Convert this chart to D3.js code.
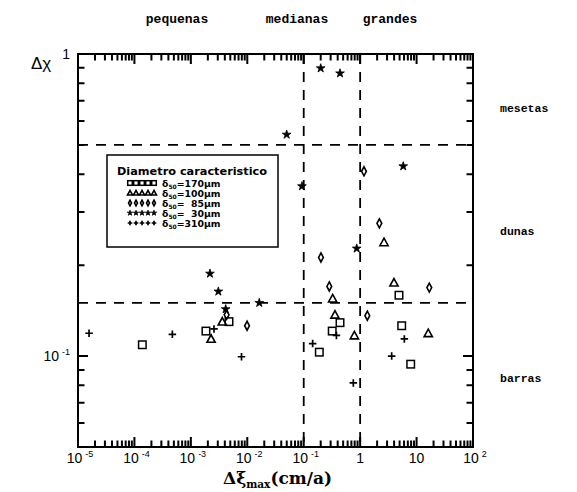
<!DOCTYPE html>
<html>
<head>
<meta charset="utf-8">
<script src="https://cdn.jsdelivr.net/npm/d3@7"></script>
<style>
  body { margin: 0; background: #fff; }
  svg { display: block; }
</style>
</head>
<body>
<div id="chart"></div>
<script>
/* data: [delta xi max (cm/a), delta chi] */
const sq170 = [[1.38e-4, 0.109], [0.00185, 0.121], [0.00474, 0.130], [0.189, 0.103], [0.32, 0.121],
  [0.44, 0.129], [4.88, 0.159], [5.45, 0.126], [7.87, 0.094]]
const tri100 = [[0.00228, 0.114], [0.00361, 0.130], [0.326, 0.155], [0.358, 0.137], [0.79, 0.117],
  [2.65, 0.238], [3.98, 0.175], [16.1, 0.119]]
const dia85 = [[0.0043, 0.137], [0.0099, 0.126], [0.202, 0.212], [0.284, 0.170], [1.17, 0.409],
  [1.34, 0.136], [2.19, 0.275], [16.8, 0.1685]]
const star30 = [[0.00218, 0.1875], [0.00307, 0.1636], [0.00414, 0.143], [0.0163, 0.150], [0.0499, 0.541],
  [0.093, 0.365], [0.2, 0.897], [0.44, 0.863], [0.87, 0.227], [5.8, 0.425]]
const plus310 = [[1.57e-5, 0.119], [4.7e-4, 0.118], [0.00257, 0.123], [0.0079, 0.0995], [0.144, 0.110],
  [0.38, 0.117], [0.757, 0.0815], [3.62, 0.100], [6.07, 0.114]]

const seriesNames = ['170', '100', ' 85', ' 30', '310']
const seriesKinds = ['square', 'triangle', 'diamond', 'star', 'plus']
const seriesData = [sq170, tri100, dia85, star30, plus310]

/* tick labels */
const xTickVals = [1e-5, 1e-4, 1e-3, 1e-2, 1e-1, 1, 10, 100]
const xTickBase = ['10', '10', '10', '10', '10', '1', '10', '10']
const xTickExp = ['-5', '-4', '-3', '-2', '-1', '', '', '2']
const yTickVals = [1, 0.1]
const yTickBase = ['1', '10']
const yTickExp = ['', '-1']

/* zone boundaries (dashed lines) */
const xBounds = [0.1, 1]
const yBounds = [0.15, 0.5]

const W = 577, H = 492
const margin = { top: 54, left: 78, right: 104, bottom: 45 }

const svg = d3.select('#chart').append('svg').attr('width', W).attr('height', H)

const x = d3.scaleLog().domain([1e-5, 100]).range([margin.left, W - margin.right])
const y = d3.scaleLog().domain([0.05, 1]).range([H - margin.bottom, margin.top])
const x0 = x.range()[0], x1 = x.range()[1], y0 = y.range()[0], y1 = y.range()[1]

/* frame */
svg.append('rect')
  .attr('x', x0).attr('y', y1)
  .attr('width', x1 - x0).attr('height', y0 - y1)
  .attr('fill', 'none').attr('stroke', '#000').attr('stroke-width', 2)

/* inward ticks on all four sides, minor ones shorter; one path per side */
const isMajor = (v) => Math.abs(Math.log10(v) - Math.round(Math.log10(v))) < 1e-6
const xTicks = x.ticks()
const yTicks = y.ticks()
const tickPaths = [
  xTicks.map((d) => `M${x(d)},${y0}v${-(isMajor(d) ? 10 : 6.5)}`).join(''),
  xTicks.map((d) => `M${x(d)},${y1}v${isMajor(d) ? 10 : 6.5}`).join(''),
  yTicks.map((d) => `M${x0},${y(d)}h${isMajor(d) ? 10 : 6.5}`).join(''),
  yTicks.map((d) => `M${x1},${y(d)}h${-(isMajor(d) ? 10 : 6.5)}`).join('')
]
svg.append('g').selectAll('path').data(tickPaths).join('path')
  .attr('d', (d) => d)
  .attr('fill', 'none').attr('stroke', '#000').attr('stroke-width', 2)

/* dashed zone lines */
svg.append('g').selectAll('line').data(xBounds).join('line')
  .attr('x1', (d) => x(d)).attr('x2', (d) => x(d))
  .attr('y1', y1).attr('y2', y0)
  .attr('stroke', '#000').attr('stroke-width', 1.8).attr('stroke-dasharray', '10,8')
svg.append('g').selectAll('line').data(yBounds).join('line')
  .attr('x1', x0).attr('x2', x1)
  .attr('y1', (d) => y(d)).attr('y2', (d) => y(d))
  .attr('stroke', '#000').attr('stroke-width', 1.8).attr('stroke-dasharray', '10,8')

/* tick labels */
const tickFont = 'Liberation Sans, Arial, sans-serif'
const xl = svg.append('g').attr('font-family', tickFont).attr('font-size', 14).attr('text-anchor', 'middle')
xTickVals.forEach(function (v, i) {
  const t = xl.append('text').attr('x', x(v) + (xTickExp[i] ? 2 : 0)).attr('y', y0 + 16)
  t.append('tspan').text(xTickBase[i])
  if (xTickExp[i]) t.append('tspan').attr('dx', 3).attr('dy', -6).attr('font-size', 9).text(xTickExp[i])
})
const yl = svg.append('g').attr('font-family', tickFont).attr('font-size', 14).attr('text-anchor', 'end')
yTickVals.forEach(function (v, i) {
  const t = yl.append('text').attr('x', x0 - 8).attr('y', y(v) + 5)
  t.append('tspan').text(yTickBase[i])
  if (yTickExp[i]) t.append('tspan').attr('dx', 3).attr('dy', -6).attr('font-size', 9).text(yTickExp[i])
})

/* axis titles */
svg.append('text')
  .attr('x', 31).attr('y', 69)
  .attr('font-family', tickFont).attr('font-size', 17)
  .text('Δχ')
const xtitle = svg.append('text')
  .attr('x', (x0 + x1) / 2 + 2).attr('y', 484)
  .attr('text-anchor', 'middle')
  .attr('font-family', 'DejaVu Serif, serif').attr('font-weight', 'bold').attr('font-size', 17)
xtitle.append('tspan').text('Δξ')
xtitle.append('tspan').attr('font-size', 10.5).attr('dy', 4).text('max')
xtitle.append('tspan').attr('dy', -4).text('(cm/a)')

/* zone names */
const zoneFont = 'Liberation Mono, DejaVu Sans Mono, monospace'
const topNames = [['pequenas', 177], ['medianas', 297], ['grandes', 390]]
svg.append('g').selectAll('text').data(topNames).join('text')
  .attr('x', (d) => d[1]).attr('y', 23)
  .attr('text-anchor', 'middle')
  .attr('font-family', zoneFont).attr('font-weight', 'bold').attr('font-size', 13)
  .text((d) => d[0])
const sideNames = [['mesetas', 112], ['dunas', 235], ['barras', 382]]
svg.append('g').selectAll('text').data(sideNames).join('text')
  .attr('x', 500).attr('y', (d) => d[1])
  .attr('font-family', zoneFont).attr('font-weight', 'bold').attr('font-size', 11.5)
  .text((d) => d[0])

/* marker shapes */
function marker(g, kind, s) {
  if (kind === 'square') {
    g.append('rect').attr('x', -s / 2).attr('y', -s / 2).attr('width', s).attr('height', s)
      .attr('fill', 'none').attr('stroke', '#000').attr('stroke-width', 1.5)
  } else if (kind === 'triangle') {
    g.append('path').attr('d', `M0,${-s * 0.55}L${s * 0.55},${s * 0.45}L${-s * 0.55},${s * 0.45}Z`)
      .attr('fill', 'none').attr('stroke', '#000').attr('stroke-width', 1.6)
  } else if (kind === 'diamond') {
    g.append('path').attr('d', `M0,${-s * 0.6}L${s * 0.32},0L0,${s * 0.6}L${-s * 0.32},0Z`)
      .attr('fill', 'none').attr('stroke', '#000').attr('stroke-width', 1.6)
  } else if (kind === 'star') {
    g.append('path').attr('d', d3.symbol(d3.symbolStar, s * s * 0.42)())
      .attr('fill', '#000').attr('stroke', '#000').attr('stroke-width', 0.8)
  } else {
    g.append('path').attr('d', `M${-s / 2},0H${s / 2}M0,${-s / 2}V${s / 2}`)
      .attr('fill', 'none').attr('stroke', '#000').attr('stroke-width', 1.7)
  }
}

seriesData.forEach(function (pts, i) {
  svg.append('g').selectAll('g').data(pts).join('g')
    .attr('transform', (d) => `translate(${x(d[0])},${y(d[1])})`)
    .each(function () { marker(d3.select(this), seriesKinds[i], 7.5) })
})

/* legend */
const legFont = 'DejaVu Sans, Verdana, sans-serif'
const lg = svg.append('g').attr('transform', 'translate(107,155)')
lg.append('rect').attr('width', 171).attr('height', 92)
  .attr('fill', '#fff').attr('stroke', '#000').attr('stroke-width', 1.5)
lg.append('text').attr('x', 85).attr('y', 20).attr('text-anchor', 'middle')
  .attr('font-family', legFont).attr('font-weight', 'bold').attr('font-size', 11.3)
  .text('Diametro caracteristico')
seriesNames.forEach(function (nm, i) {
  const ry = 31 + i * 10
  for (let k = 0; k < 5; k++) {
    const g = lg.append('g').attr('transform', `translate(${23 + k * 6},${ry - 3})`)
    marker(g, seriesKinds[i], 4.6)
  }
  const t = lg.append('text').attr('x', 55).attr('y', ry + 1)
    .attr('font-family', legFont).attr('font-weight', 'bold').attr('font-size', 9.3)
    .attr('xml:space', 'preserve')
  t.append('tspan').text('δ')
  t.append('tspan').attr('font-size', 6).attr('dy', 2).text('50')
  t.append('tspan').attr('dy', -2).text('=' + nm.replace(' ', '\u2007') + 'μm')
})
</script>
</body>
</html>
